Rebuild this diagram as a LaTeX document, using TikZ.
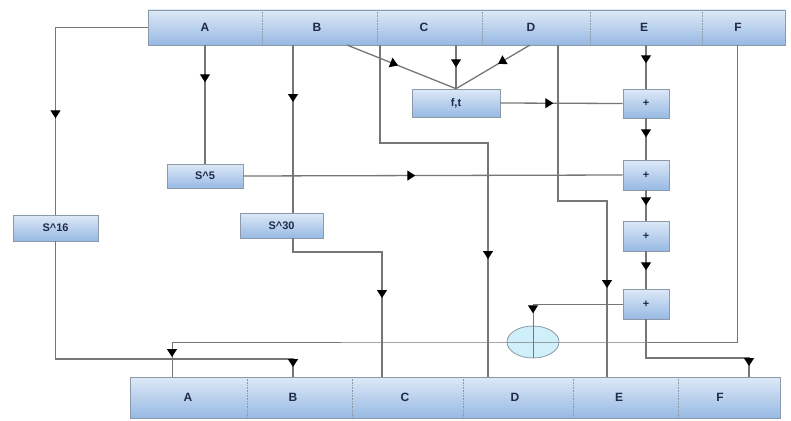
\documentclass[tikz,border=0pt]{standalone}
\usepackage{fontspec}
\setmainfont{Liberation Sans}
\usetikzlibrary{arrows.meta,decorations.markings,shapes.geometric}
\definecolor{linegray}{HTML}{767676}
\definecolor{boxtop}{HTML}{DDE9F7}
\definecolor{boxbot}{HTML}{97B9E3}
\definecolor{boxline}{HTML}{8C99A8}
\definecolor{txt}{HTML}{1E2A48}
\definecolor{circfill}{HTML}{CFEFFB}
\begin{document}
\begin{tikzpicture}[x=1pt,y=-1pt,
  blk/.style={draw=boxline, line width=0.6pt, top color=boxtop, bottom color=boxbot,
    inner sep=0pt, text=txt, font=\bfseries\fontsize{11}{13}\selectfont},
  lbl/.style={text=txt, inner sep=0pt, font=\bfseries\fontsize{12}{14}\selectfont},
  divider/.style={draw=boxline, line width=0.6pt, densely dotted},
  wire/.style={draw=linegray, line width=1.3pt},
  arr/.style={postaction={decorate, decoration={markings,
    mark=at position #1 with {\arrow[black]{Triangle[length=8pt,width=10pt]}}}}},
]
\useasboundingbox (0,0) rectangle (791,420);

% bars
\node[blk, minimum width=637pt, minimum height=35pt] (top) at (466.5,27.5) {};
\node[blk, minimum width=650pt, minimum height=41pt] (bot) at (455,397.5) {};
\foreach \x in {262,377,482,590,702} \draw[divider] (\x,10) -- (\x,45);
\foreach \x in {247,352,463,573,678} \draw[divider] (\x,377) -- (\x,418);
\node[lbl] (tA) at (205,27.5) {A};
\node[lbl] (tB) at (317,27.5) {B};
\node[lbl] (tC) at (424,27.5) {C};
\node[lbl] (tD) at (531,27.5) {D};
\node[lbl] (tE) at (644,27.5) {E};
\node[lbl] (tF) at (738,27.5) {F};
\node[lbl] (bA) at (188,397.5) {A};
\node[lbl] (bB) at (293,397.5) {B};
\node[lbl] (bC) at (405,397.5) {C};
\node[lbl] (bD) at (515,397.5) {D};
\node[lbl] (bE) at (619,397.5) {E};
\node[lbl] (bF) at (720,397.5) {F};

% boxes
\node[blk, minimum width=88pt, minimum height=28pt] (ft) at (456,103) {f,t};
\node[blk, minimum width=46pt, minimum height=29pt] (p1) at (646,103.5) {+};
\node[blk, minimum width=46pt, minimum height=30pt] (p2) at (646,175) {+};
\node[blk, minimum width=46pt, minimum height=30pt] (p3) at (646,236) {+};
\node[blk, minimum width=46pt, minimum height=30pt] (p4) at (646,304) {+};
\node[blk, minimum width=76pt, minimum height=24pt] (s5) at (205,176) {S\^{}5};
\node[blk, minimum width=83pt, minimum height=25pt] (s30) at (281.5,225.5) {S\^{}30};
\node[blk, minimum width=85pt, minimum height=26pt] (s16) at (55.5,228) {S\^{}16};
\node[ellipse, draw=boxline, line width=0.8pt, fill=circfill, minimum width=52pt, minimum height=32pt, inner sep=0pt] (circ) at (533,342) {};

% coordinates on the bars
\coordinate (oB) at (293,45);
\coordinate (oB2) at (347,45);
\coordinate (oC) at (380,45);
\coordinate (oD) at (530,45);
\coordinate (oD2) at (558,45);
\coordinate (oF) at (737,45);
\coordinate (iA) at (172,377);
\coordinate (iB) at (293,377);
\coordinate (iC) at (382,377);
\coordinate (iD) at (488,377);
\coordinate (iE) at (607,377);
\coordinate (iF) at (749,377);

% connectors
\draw[wire, arr=183pt] (top.west) -| (s16.north);
\draw[wire, arr=-10pt] (s16.south) |- ([yshift=18pt]iB) -- (iB);
\draw[wire, arr=37pt] (s5.north |- top.south) -- (s5.north);
\draw[wire, arr=172pt] (s5.east) -- (p2.west);
\draw[wire, arr=57pt] (oB) -- (oB |- s30.north);
\draw[wire, arr=-79pt] (oB |- s30.south) -- ([yshift=125pt]iC -| oB) -- ([yshift=125pt]iC) -- (iC);
\draw[wire, arr=55pt] (oB2) -- (ft.north);
\draw[wire, arr=22pt] (ft.north |- top.south) -- (ft.north);
\draw[wire, arr=37pt] (oD) -- (ft.north);
\draw[wire, arr=-118pt] (oC) |- ([yshift=234pt]iD) -- (iD);
\draw[wire, arr=53pt] (ft.east) -- (p1.west);
\draw[wire, arr=-89pt] (oD2) |- ([yshift=176pt]iE) -- (iE);
\draw[wire, arr=18pt] (p1.north |- top.south) -- (p1.north);
\draw[wire, arr=19pt] (p1.south) -- (p2.north);
\draw[wire, arr=15pt] (p2.south) -- (p3.north);
\draw[wire, arr=19pt] (p3.south) -- (p4.north);
\draw[wire, line width=1pt, arr=99pt] (p4.west) -| (circ.north);
\draw[wire, line width=1pt] (circ.north) -- (circ.south);
\draw[wire, line width=1pt, arr=-20pt] (oF) |- (circ.east) -- (circ.west) -| (iA);
\draw[wire, arr=-11pt] (p4.south) |- ([yshift=19pt]iF) -- (iF);
\end{tikzpicture}
\end{document}
